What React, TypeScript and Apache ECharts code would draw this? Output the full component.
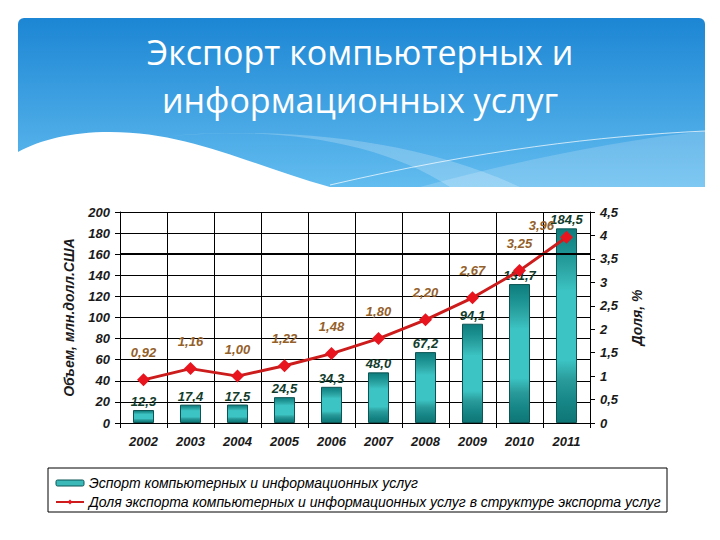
import React, { useRef, useEffect } from 'react'
import * as echarts from 'echarts'

const years = ['2002', '2003', '2004', '2005', '2006', '2007', '2008', '2009', '2010', '2011']
// объем экспорта, млн. долл. США
const exportVolume = [12.3, 17.4, 17.5, 24.5, 34.3, 48.0, 67.2, 94.1, 131.7, 184.5]
// доля в структуре экспорта услуг, %
const exportShare = [0.92, 1.16, 1.0, 1.22, 1.48, 1.8, 2.2, 2.67, 3.25, 3.96]

const barName = 'Эспорт компьютерных и информационных услуг'
const lineName = 'Доля экспорта компьютерных и информационных услуг в структуре экспорта услуг'

const axisFont = {
  fontFamily: '"Liberation Sans", Arial, sans-serif',
  fontStyle: 'italic' as const,
  fontWeight: 'bold' as const,
  fontSize: 13,
}

// фоновые фигуры шапки слайда
echarts.graphic.registerShape(
  'wave',
  echarts.graphic.extendPath('M18 152 C40 140 70 132 110 132 C190 132 250 165 330 187 L18 187 Z', {})
)
echarts.graphic.registerShape(
  'streak',
  echarts.graphic.extendPath('M170 136 C270 126 380 140 450 187 L520 187 C440 150 320 124 170 136 Z', {})
)
echarts.graphic.registerShape(
  'glow',
  echarts.graphic.extendPath('M420 187 C520 160 620 140 705 131 L705 187 Z', {})
)

const App: React.FC = () => {
  const chartRef = useRef<HTMLDivElement>(null)

  useEffect(() => {
    document.body.style.margin = '0'
    if (!chartRef.current) return
    const chart = echarts.init(chartRef.current, null, { renderer: 'svg' })

    // последняя подпись доли сдвинута влево, чтобы не налезала на подпись столбца
    const shareData = exportShare.map((v, i) =>
      i === exportShare.length - 1
        ? { value: v, label: { position: 'left', distance: 6, offset: [0, -12] } }
        : v
    )

    chart.setOption({
      animation: false,
      backgroundColor: '#ffffff',
      graphic: [
        {
          type: 'rect',
          shape: { x: 18, y: 18, width: 687, height: 169, r: [6, 6, 0, 0] },
          style: {
            fill: new echarts.graphic.LinearGradient(0, 0, 0, 1, [
              { offset: 0, color: '#1c86d4' },
              { offset: 1, color: '#62bcef' },
            ]),
          },
          z: 0,
        },
        { type: 'glow', x: 0, y: 0, scaleX: 1, scaleY: 1, style: { fill: 'rgba(255,255,255,0.18)' }, z: 1 },
        { type: 'streak', x: 0, y: 0, scaleX: 1, scaleY: 1, style: { fill: 'rgba(255,255,255,0.22)' }, z: 1 },
        {
          type: 'bezierCurve',
          shape: { x1: 330, y1: 185, x2: 705, y2: 131, cpx1: 480, cpy1: 150, cpx2: 600, cpy2: 136 },
          style: { stroke: 'rgba(255,255,255,0.7)', lineWidth: 1, fill: 'none' },
          z: 1,
        },
        { type: 'wave', x: 0, y: 0, scaleX: 1, scaleY: 1, style: { fill: '#ffffff' }, z: 2 },
        {
          type: 'text',
          x: 360,
          y: 28,
          style: {
            text: 'Экспорт компьютерных и\nинформационных услуг',
            fill: '#ffffff',
            font: '34px "Open Sans", "Noto Sans", sans-serif',
            align: 'center',
            lineHeight: 48,
          },
          z: 3,
        },
        {
          type: 'rect',
          shape: { x: 48, y: 468, width: 619, height: 44 },
          style: { fill: 'none', stroke: '#000000', lineWidth: 1 },
          z: 3,
        },
      ],
      legend: {
        orient: 'vertical',
        left: 50,
        top: 471,
        itemWidth: 28,
        itemHeight: 6,
        itemGap: 5,
        textStyle: {
          fontFamily: '"Liberation Sans", Arial, sans-serif',
          fontStyle: 'italic',
          fontSize: 14,
          color: '#000000',
        },
        data: [
          { name: barName, itemStyle: { color: '#3bb9b9', borderColor: '#0d5555', borderWidth: 1 } },
          { name: lineName },
        ],
      },
      grid: { left: 120, right: 130, top: 212, bottom: 117 },
      xAxis: {
        type: 'category',
        data: years,
        axisLine: { lineStyle: { color: '#000000', width: 1 } },
        axisTick: { show: true, length: 5, lineStyle: { color: '#000000' } },
        axisLabel: { ...axisFont, color: '#1a1a1a', margin: 12 },
        splitLine: { show: true, lineStyle: { color: '#000000', width: 1 } },
      },
      yAxis: [
        {
          type: 'value',
          min: 0,
          max: 200,
          interval: 20,
          name: 'Объем, млн.долл.США',
          nameLocation: 'middle',
          nameRotate: 90,
          nameGap: 44,
          nameTextStyle: { ...axisFont, fontSize: 14, color: '#1a1a1a' },
          axisLine: { show: true, lineStyle: { color: '#000000' } },
          axisTick: { show: true, length: 5, lineStyle: { color: '#000000' } },
          axisLabel: { ...axisFont, color: '#1a1a1a', margin: 10 },
          splitLine: { show: true, lineStyle: { color: '#000000', width: 1 } },
        },
        {
          type: 'value',
          min: 0,
          max: 4.5,
          interval: 0.5,
          position: 'right',
          name: 'Доля, %',
          nameLocation: 'middle',
          nameRotate: 90,
          nameGap: 40,
          nameTextStyle: { ...axisFont, fontSize: 14, color: '#1a1a1a' },
          axisLine: { show: true, lineStyle: { color: '#000000' } },
          axisTick: { show: true, length: 5, lineStyle: { color: '#000000' } },
          axisLabel: {
            ...axisFont,
            color: '#1a1a1a',
            margin: 10,
            formatter: (v: number) => String(v).replace('.', ','),
          },
          splitLine: { show: false },
        },
      ],
      series: [
        {
          name: barName,
          type: 'bar',
          yAxisIndex: 0,
          data: exportVolume,
          barWidth: 21,
          itemStyle: {
            borderColor: '#0d5555',
            borderWidth: 1,
            color: new echarts.graphic.LinearGradient(0, 0, 0, 1, [
              { offset: 0, color: '#0f7c7c' },
              { offset: 0.1, color: '#1a8f8f' },
              { offset: 0.22, color: '#2fa8a8' },
              { offset: 0.32, color: '#3cc3c3' },
              { offset: 0.68, color: '#3cc3c3' },
              { offset: 0.78, color: '#2a9b9b' },
              { offset: 0.88, color: '#188888' },
              { offset: 1, color: '#0e7575' },
            ]),
          },
          label: {
            show: true,
            position: 'top',
            distance: 2,
            ...axisFont,
            color: '#123c2c',
            formatter: (p: any) => p.value.toFixed(1).replace('.', ','),
          },
          markLine: {
            silent: true,
            symbol: 'none',
            label: { show: false },
            lineStyle: { color: '#000000', width: 2, type: 'solid' },
            data: [{ yAxis: 160 }],
          },
          z: 2,
        },
        {
          name: lineName,
          type: 'line',
          yAxisIndex: 1,
          data: shareData,
          symbol: 'diamond',
          symbolSize: 13,
          lineStyle: { color: '#cc1c1c', width: 3 },
          itemStyle: { color: '#e8141e' },
          label: {
            show: true,
            position: 'top',
            distance: 14,
            ...axisFont,
            color: '#94602a',
            formatter: (p: any) => p.value.toFixed(2).replace('.', ','),
          },
          z: 3,
        },
      ],
    })

    return () => {
      chart.dispose()
    }
  }, [])

  return <div ref={chartRef} style={{ width: '720px', height: '540px' }} />
}

export default App
